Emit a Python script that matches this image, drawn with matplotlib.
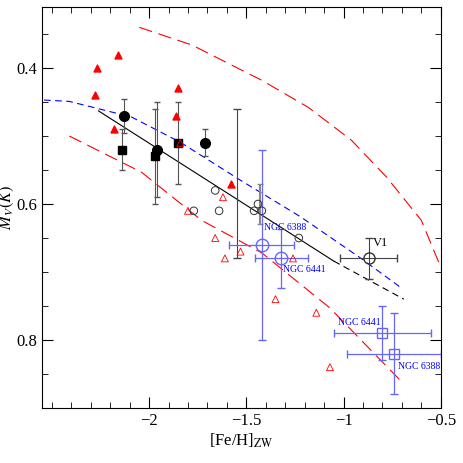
import matplotlib
matplotlib.use("Agg")
import matplotlib.pyplot as plt
from matplotlib.ticker import MultipleLocator

plt.rcParams['font.family'] = ['Liberation Serif', 'DejaVu Serif']
plt.rcParams['mathtext.fontset'] = 'stix'

tri_f_x = [-2.28, -2.27, -2.16, -2.18, -1.85, -1.86, -1.58]
tri_f_y = [0.44, 0.40, 0.38, 0.49, 0.43, 0.47, 0.57]
tri_o_x = [-1.80, -1.62, -1.66, -1.53, -1.61, -1.26, -1.35, -1.14, -1.07, -1.84]
tri_o_y = [0.61, 0.59, 0.65, 0.67, 0.68, 0.68, 0.74, 0.76, 0.84, 0.51]
circ_f_x = [-2.13, -1.96, -1.71]
circ_f_y = [0.47, 0.52, 0.51]
circ_f_e = [0.025, 0.07, 0.02]
sq_f_x = [-2.14, -1.97, -1.85]
sq_f_y = [0.52, 0.53, 0.51]
sq_f_e = [0.03, 0.07, 0.06]
circ_o_x = [-1.66, -1.77, -1.64, -1.44, -1.46, -1.42, -1.23]
circ_o_y = [0.58, 0.61, 0.61, 0.60, 0.61, 0.61, 0.65]
v1 = (-0.87, 0.68, 0.147, 0.03)
ngc_c = [(-1.42, 0.66, 0.167, 0.14, 'NGC 6388'), (-1.32, 0.68, 0.136, 0.043, 'NGC 6441')]
ngc_s = [(-0.80, 0.79, 0.25, 0.04, 'NGC 6441'), (-0.74, 0.82, 0.24, 0.06, 'NGC 6388')]
fit_x = [-2.26, -1.63, -1.05]
fit_y = [0.463, 0.578, 0.684]
fitd_x = [-1.05, -0.69]
fitd_y = [0.684, 0.74]
blue_x = [-2.54, -2.41, -2.09, -1.84, -1.53, -1.22, -0.91, -0.71]
blue_y = [0.447, 0.449, 0.472, 0.509, 0.565, 0.619, 0.68, 0.722]
redl_x = [-2.41, -2.04, -1.73, -1.42, -1.07, -0.71]
redl_y = [0.50, 0.553, 0.624, 0.672, 0.753, 0.859]
redu_x = [-2.05, -1.78, -1.42, -1.18, -0.96, -0.78, -0.60, -0.49]
redu_y = [0.34, 0.366, 0.418, 0.458, 0.506, 0.56, 0.624, 0.70]

fig = plt.figure(figsize=(4.63, 4.63), dpi=100)
ax = fig.add_axes([0.091, 0.119, 0.861, 0.866])

ax.plot(redu_x, redu_y, color='red', lw=0.8, dashes=(12, 6))
ax.plot(redl_x, redl_y, color='red', lw=0.8, dashes=(12, 6))
ax.plot(blue_x, blue_y, color='blue', lw=0.8, dashes=(6, 4))
ax.plot(fit_x, fit_y, color='black', lw=0.8)
ax.plot(fitd_x, fitd_y, color='black', lw=0.8, dashes=(6, 4))

ax.errorbar(-1.55, 0.57, yerr=0.11, fmt='none', ecolor='#444', capsize=3, lw=0.8)
ax.errorbar(-1.43, 0.60, yerr=0.03, fmt='none', ecolor='#888', capsize=2, lw=1.5)
ax.errorbar(circ_f_x, circ_f_y, yerr=circ_f_e, fmt='o', color='black', ms=7, ecolor='#555', capsize=2, lw=0.8)
ax.errorbar(sq_f_x, sq_f_y, yerr=sq_f_e, fmt='s', color='black', ms=6, ecolor='#555', capsize=2, lw=0.8)
ax.scatter(tri_f_x, tri_f_y, marker='^', color='red', s=25, zorder=3)
ax.scatter(tri_o_x, tri_o_y, marker='^', facecolor='none', edgecolor='red', s=25, lw=0.6, zorder=3)
ax.scatter(circ_o_x, circ_o_y, marker='o', facecolor='none', edgecolor='#333', s=30, lw=0.7, zorder=3)

ax.errorbar(v1[0], v1[1], xerr=v1[2], yerr=v1[3], fmt='o', mfc='none', mec='#333', ms=8, ecolor='#444', capsize=3, lw=0.8)
ax.text(v1[0] + 0.02, v1[1] - 0.018, 'V1', fontsize=9)
for (x, y, ex, ey, lab) in ngc_c:
    ax.errorbar(x, y, xerr=ex, yerr=ey, fmt='o', mfc='none', mec='#6666ff', ms=9, ecolor='#6666ff', capsize=3, lw=0.9)
ax.text(-1.41, 0.638, 'NGC 6388', fontsize=7, color='blue')
ax.text(-1.31, 0.700, 'NGC 6441', fontsize=7, color='blue')
for (x, y, ex, ey, lab) in ngc_s:
    ax.errorbar(x, y, xerr=ex, yerr=ey, fmt='s', mfc='none', mec='#6666ff', ms=7, ecolor='#6666ff', capsize=3, lw=0.9)
ax.text(-1.03, 0.778, 'NGC 6441', fontsize=7, color='blue')
ax.text(-0.72, 0.843, 'NGC 6388', fontsize=7, color='blue')

ax.set_xlim(-2.55, -0.5)
ax.set_ylim(0.9, 0.31)
ax.xaxis.set_major_locator(MultipleLocator(0.5))
ax.xaxis.set_minor_locator(MultipleLocator(0.1))
ax.yaxis.set_major_locator(MultipleLocator(0.2))
ax.yaxis.set_minor_locator(MultipleLocator(0.05))
ax.tick_params(which='both', direction='in', top=True, right=True, labelsize=12)
ax.tick_params(which='major', length=8)
ax.tick_params(which='minor', length=4)
ax.set_xticks([-2, -1.5, -1, -0.5])
ax.set_xticklabels(['−2', '−1.5', '−1', '−0.5'])
ax.set_xlabel(r'[Fe/H]$_{\rm ZW}$', fontsize=12, labelpad=2)
ax.set_ylabel(r'$M_V(K)$', fontsize=12)
ax.yaxis.set_label_coords(-0.065, 0.5)
fig.savefig('out.png', dpi=100)
